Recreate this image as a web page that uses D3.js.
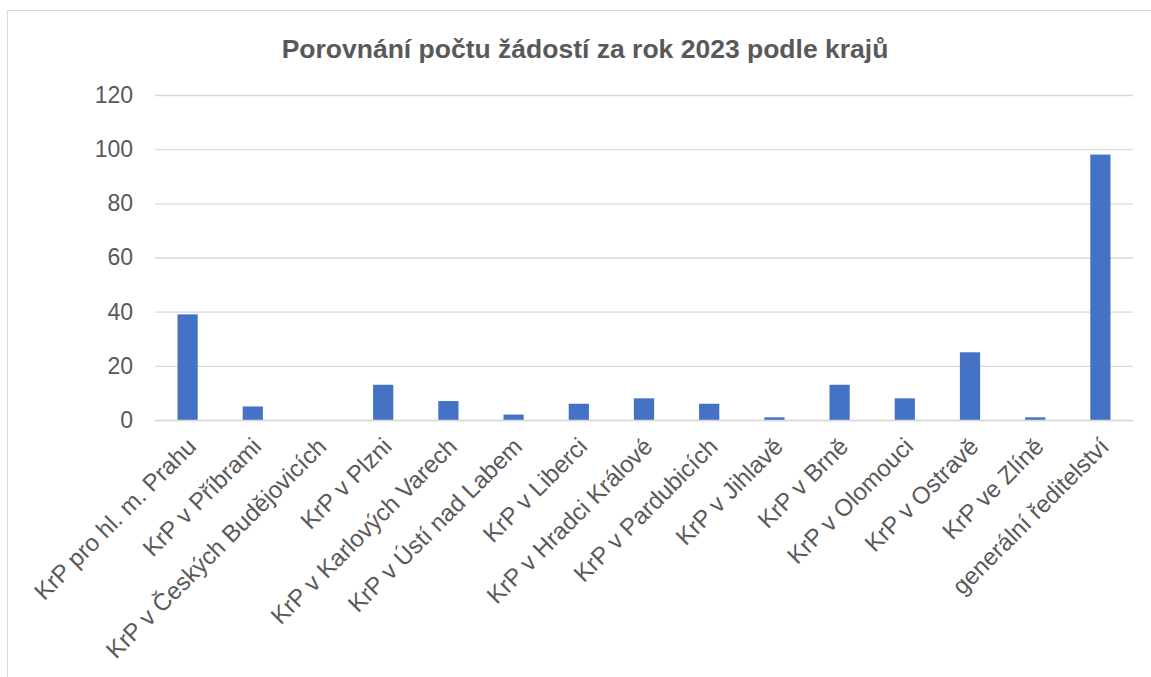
<!DOCTYPE html>
<html>
<head>
<meta charset="utf-8">
<script src="https://cdn.jsdelivr.net/npm/d3@7"></script>
<style>
  body { margin: 0; background: white; }
  text { font-family: "Liberation Sans", Arial, sans-serif; fill: #595959; }
</style>
</head>
<body>
<div id="chart"></div>
<script>
var categories = ['KrP pro hl. m. Prahu', 'KrP v Příbrami', 'KrP v Českých Budějovicích', 'KrP v Plzni',
  'KrP v Karlových Varech', 'KrP v Ústí nad Labem', 'KrP v Liberci', 'KrP v Hradci Králové',
  'KrP v Pardubicích', 'KrP v Jihlavě', 'KrP v Brně', 'KrP v Olomouci', 'KrP v Ostravě',
  'KrP ve Zlíně', 'generální ředitelství']
var values = [39, 5, 0, 13, 7, 2, 6, 8, 6, 1, 13, 8, 25, 1, 98]
var yTicks = [0, 20, 40, 60, 80, 100, 120]
var title = 'Porovnání počtu žádostí za rok 2023 podle krajů'

var width = 1151
var height = 677
var margin = { top: 95, right: 18, bottom: 257, left: 155 }

var svg = d3.select("#chart")
  .append("svg")
  .attr("width", width)
  .attr("height", height)

// chart frame
svg.append("rect")
  .attr("x", 7.5)
  .attr("y", 10.5)
  .attr("width", width + 10)
  .attr("height", height + 10)
  .attr("fill", "white")
  .attr("stroke", "#d9d9d9")
  .attr("stroke-width", 1)

svg.append("text")
  .attr("x", 585)
  .attr("y", 58)
  .attr("text-anchor", "middle")
  .style("font-size", "26.5px")
  .style("font-weight", "bold")
  .text(title)

var yScale = d3.scaleLinear()
  .domain([0, 120])
  .range([height - margin.bottom, margin.top])

var xScale = d3.scaleBand()
  .domain(categories)
  .range([margin.left, width - margin.right])
  .padding(0)

// grid
var yGrid = d3.axisLeft(yScale)
  .tickValues(yTicks)
  .tickSize(-(width - margin.right - margin.left))
  .tickFormat("")

svg.append("g")
  .attr("transform", `translate(${margin.left},0)`)
  .call(yGrid)
  .call(g => g.select(".domain").remove())
  .selectAll("line")
  .attr("stroke", "#d9d9d9")
  .attr("stroke-width", 1.3)

// y labels
var yAxis = d3.axisLeft(yScale)
  .tickValues(yTicks)
  .tickSize(0)
  .tickPadding(22)

svg.append("g")
  .attr("transform", `translate(${margin.left},0)`)
  .call(yAxis)
  .call(g => g.select(".domain").remove())
  .selectAll("text")
  .attr("font-family", null)
  .style("font-size", "23px")
  .style("fill", "#595959")

var barW = xScale.bandwidth() * 0.31

svg.selectAll(".bar")
  .data(values)
  .enter()
  .append("rect")
  .attr("class", "bar")
  .attr("x", (d, i) => xScale(categories[i]) + xScale.bandwidth() / 2 - barW / 2)
  .attr("y", d => yScale(d))
  .attr("width", barW)
  .attr("height", d => yScale(0) - yScale(d))
  .attr("fill", "#4472c4")

// x labels
var xAxis = d3.axisBottom(xScale).tickSize(0).tickPadding(0)

svg.append("g")
  .attr("transform", `translate(0,${height - margin.bottom})`)
  .call(xAxis)
  .call(g => g.select(".domain")
    .attr("stroke", "#d9d9d9")
    .attr("stroke-width", 1.3))
  .selectAll("text")
  .attr("font-family", null)
  .style("font-size", "24px")
  .style("fill", "#595959")
  .style("text-anchor", "end")
  .attr("dy", null)
  .attr("y", 0)
  .attr("transform", "translate(10,28) rotate(-45)")
</script>
</body>
</html>
